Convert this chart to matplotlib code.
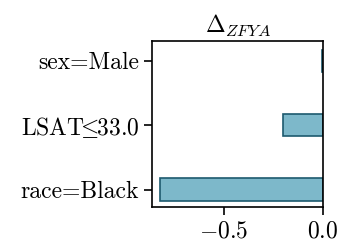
import matplotlib
matplotlib.use("Agg")
import matplotlib.pyplot as plt

categories = ["race=Black", r"LSAT$\!\!\leq\!\!$33.0", "sex=Male"]
values = [-0.823, -0.202, -0.003]
xticks = [-0.5, 0.0]

plt.rcParams['font.family'] = 'serif'
plt.rcParams['font.serif'] = ['cmr10']
plt.rcParams['mathtext.fontset'] = 'cm'
plt.rcParams['axes.formatter.use_mathtext'] = True
plt.rcParams['axes.unicode_minus'] = True

fig = plt.figure(figsize=(3.41, 2.41), dpi=100)
ax = fig.add_axes([0.447, 0.141, 0.5, 0.687])
ax.barh(range(len(categories)), values, height=0.35, color='#7db8ca', edgecolor='#1d5a6e', linewidth=1.2)
ax.set_yticks(range(len(categories)))
ax.set_yticklabels(categories)
ax.set_xticks(xticks)
ax.set_xticklabels([r'$-0.5$', r'$0.0$'])
ax.set_xlim(min(values) * 1.047, 0.0)
ax.set_ylim(-0.27, 2.3)
ax.tick_params(labelsize=17, length=6, width=1.2)
for s in ax.spines.values():
    s.set_linewidth(1.2)
ax.set_title(r'$\Delta_{ZFYA}$', fontsize=17)
fig.savefig('out.png', dpi=100)
